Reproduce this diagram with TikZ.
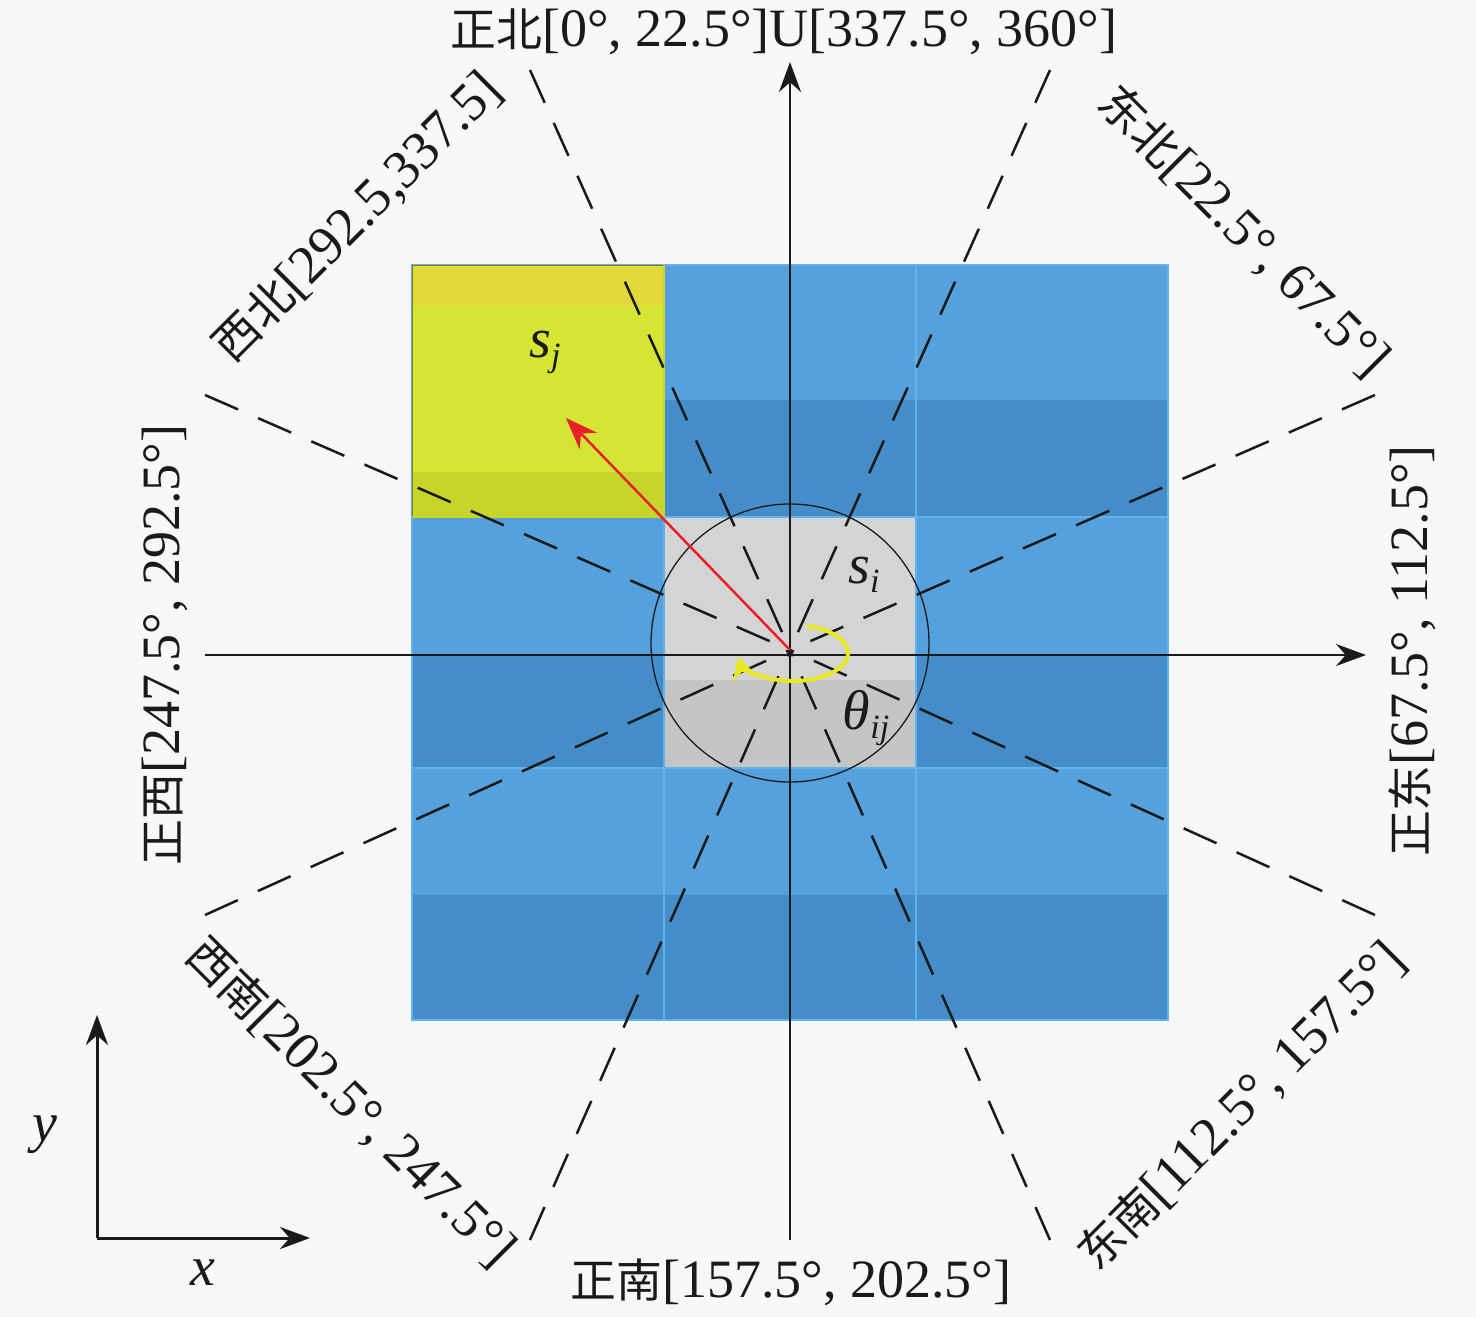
\documentclass[tikz,border=0pt]{standalone}
\usepackage{fontspec}
\setmainfont{Liberation Serif}
\newfontfamily\cjk{Noto Sans CJK SC}[Scale=0.85]
\usetikzlibrary{arrows.meta}
\definecolor{bg}{HTML}{F8F8F8}
\definecolor{bluelt}{HTML}{56A0DC}
\definecolor{bluedk}{HTML}{448DC9}
\definecolor{blueedge}{HTML}{62B2EC}
\definecolor{ylwtop}{HTML}{E4D93A}
\definecolor{ylwmid}{HTML}{D5E534}
\definecolor{ylwbot}{HTML}{C6D42C}
\definecolor{graylt}{HTML}{D4D4D4}
\definecolor{graydk}{HTML}{C5C5C5}
\definecolor{arcyellow}{HTML}{E6EA1E}
\definecolor{redarrow}{HTML}{E8202A}
\definecolor{ink}{HTML}{1A1A1A}
\tikzset{
  lbl/.style={font=\fontsize{54}{60}\selectfont, inner sep=0pt, text=ink},
  mathlbl/.style={font=\fontsize{56}{60}\selectfont\itshape, inner sep=0pt, text=ink},
  axisline/.style={draw=ink, line width=2.5pt, -{Stealth[length=30pt,width=22pt]}},
  dashline/.style={draw=ink, line width=2.5pt, dash pattern=on 36pt off 22pt},
  celledge/.style={draw=blueedge, line width=1.5pt}
}
\begin{document}
\begin{tikzpicture}[x=1pt,y=-1pt]
\fill[bg] (0,0) rectangle (1476,1317);
\useasboundingbox (0,0) rectangle (1476,1317);

% ---- blue cells (two bands each) ----
\foreach \cx in {412,664,916}{
  \fill[bluelt] (\cx,265) rectangle ++(252,135);
  \fill[bluedk] (\cx,400) rectangle ++(252,117);
  \fill[bluelt] (\cx,517) rectangle ++(252,138);
  \fill[bluedk] (\cx,655) rectangle ++(252,113);
  \fill[bluelt] (\cx,768) rectangle ++(252,127);
  \fill[bluedk] (\cx,895) rectangle ++(252,125);
}
% yellow cell
\fill[ylwtop] (412,265) rectangle (664,305);
\fill[ylwmid] (412,305) rectangle (664,472);
\fill[ylwbot] (412,472) rectangle (664,517);
% grey centre cell
\fill[graylt] (664,517) rectangle (916,680);
\fill[graydk] (664,680) rectangle (916,768);
% cell edges
\draw[celledge] (664,265) -- (664,1020) (916,265) -- (916,1020)
  (412,517) -- (1168,517) (412,768) -- (1168,768);
\draw[celledge] (412,265) rectangle (1168,1020);
\draw[ylwbot!60!black, line width=1pt] (412,517) -- (412,265) -- (664,265);
\draw[ylwbot, line width=1.5pt] (664,265) -- (664,517) -- (412,517);

% ---- centre and circle ----
\coordinate (C) at (790,650);
\draw[ink, line width=1.3pt] (790,643) circle[radius=139];

% ---- dashed sector lines ----
\coordinate (dNNW) at (530,70);
\coordinate (dNNE) at (1050,70);
\coordinate (dWNW) at (205,395);
\coordinate (dENE) at (1375,395);
\coordinate (dWSW) at (205,915);
\coordinate (dESE) at (1375,915);
\coordinate (dSSW) at (530,1240);
\coordinate (dSSE) at (1050,1240);
\foreach \e in {dNNW,dNNE,dWNW,dENE,dWSW,dESE,dSSW,dSSE}{
  \draw[dashline] (\e) -- (C);
}

% ---- main axes ----
\coordinate (axN) at (790,62);
\coordinate (axS) at (790,1240);
\coordinate (axW) at (205,655);
\coordinate (axE) at (1366,655);
\draw[axisline] (axS) -- (axN);
\draw[axisline] (axW) -- (axE);

% ---- red vector s_i -> s_j ----
\coordinate (sjtip) at (566,418);
\draw[redarrow, line width=2.5pt, -{Stealth[length=32pt,width=24pt]}] (C) -- (sjtip);

% ---- yellow angle arc ----
\draw[arcyellow, line width=4pt, -{Stealth[length=22pt,width=24pt]}]
  (793,653) ++(-75:55 and 28) arc[start angle=-75, end angle=172, x radius=55, y radius=28];

% ---- cell labels ----
\node[mathlbl] (sj) at (545,352) {s\raisebox{-0.35ex}{\fontsize{34}{34}\selectfont j}};
\node[mathlbl] (si) at (864,575) {s\raisebox{-0.35ex}{\fontsize{34}{34}\selectfont i}};
\node[mathlbl] (thij) at (866,718) {θ\raisebox{-0.35ex}{\fontsize{34}{34}\selectfont ij}};

% ---- direction labels ----
\node[lbl] (lN) at (784,32) {{\cjk 正北}[0°, 22.5°]U[337.5°, 360°]};
\node[lbl] (lS) at (791,1282) {{\cjk 正南}[157.5°, 202.5°]};
\node[lbl, rotate=90] (lE) at (1412,651) {{\cjk 正东}[67.5°, 112.5°]};
\node[lbl, rotate=90] (lW) at (165,645) {{\cjk 正西}[247.5°, 292.5°]};
\node[lbl, rotate=45] (lNW) at (358,218) {{\cjk 西北}[292.5,337.5]};
\node[lbl, rotate=-45] (lNE) at (1243,232) {{\cjk 东北}[22.5°, 67.5°]};
\node[lbl, rotate=-45] (lSW) at (350,1103) {{\cjk 西南}[202.5°, 247.5°]};
\node[lbl, rotate=45] (lSE) at (1242,1107) {{\cjk 东南}[112.5°, 157.5°]};

% ---- small reference axes ----
\coordinate (o) at (97,1238);
\coordinate (oy) at (97,1015);
\coordinate (ox) at (310,1238);
\draw[axisline, line width=3pt] (o) -- (oy);
\draw[axisline, line width=3pt] (o) -- (ox);
\node[mathlbl] (ly) at (45,1135) {y};
\node[mathlbl] (lx) at (203,1273) {x};
\end{tikzpicture}
\end{document}
